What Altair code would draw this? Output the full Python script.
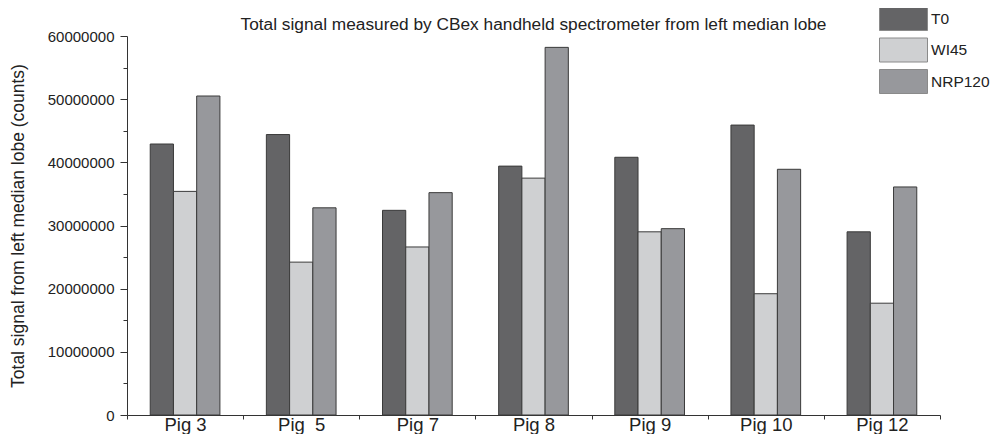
import altair as alt
import pandas as pd

pigs = ["Pig 3", "Pig \u00a05", "Pig 7", "Pig 8", "Pig 9", "Pig 10", "Pig 12"]
series = ["T0", "WI45", "NRP120"]
t0 = [42900000, 44400000, 32400000, 39400000, 40800000, 45900000, 29000000]
wi45 = [35400000, 24200000, 26600000, 37500000, 29000000, 19200000, 17700000]
nrp120 = [50500000, 32800000, 35200000, 58200000, 29500000, 38900000, 36100000]
colors = ["#646466", "#cfd0d2", "#97989c"]
y_ticks = list(range(0, 60000001, 5000000))

rows = []
for i, p in enumerate(pigs):
    for s, vals in zip(series, [t0, wi45, nrp120]):
        rows.append({"pig": p, "series": s, "value": vals[i]})
df = pd.DataFrame(rows)

FONT = "Liberation Sans"
major = "datum.value % 10000000 == 0"

chart = alt.Chart(df).mark_bar(stroke="#3a3a3a", strokeWidth=1).encode(
    x=alt.X("pig:N", sort=pigs,
            scale=alt.Scale(paddingInner=0, paddingOuter=0),
            axis=alt.Axis(title=None, labelAngle=0, tickBand="extent",
                          labelFontSize=18.5, labelFont=FONT, labelColor="#222",
                          labelBaseline="alphabetic", labelPadding=11,
                          tickSize=4, domainColor="#333",
                          tickColor="#333", grid=False)),
    xOffset=alt.XOffset("series:N", sort=series,
                        scale=alt.Scale(paddingInner=0, paddingOuter=1)),
    y=alt.Y("value:Q", scale=alt.Scale(domain=[0, 60000000], nice=False),
            axis=alt.Axis(title="Total signal from left median lobe (counts)",
                          titleFontSize=17.5, titleFont=FONT, titleFontWeight="normal",
                          titleColor="#222", titlePadding=20,
                          values=y_ticks, format="d",
                          labelExpr=major + " ? datum.label : ''",
                          labelFontSize=15, labelFont=FONT, labelColor="#222",
                          labelPadding=6,
                          tickSize=alt.condition(major, alt.value(7), alt.value(4)),
                          domainColor="#333",
                          tickColor="#333", grid=False)),
    color=alt.Color("series:N", sort=series,
                    scale=alt.Scale(domain=series, range=colors),
                    legend=alt.Legend(title=None, orient="none",
                                      legendX=764, legendY=-30,
                                      symbolType="M-2,-1H2V1H-2Z",
                                      symbolSize=576, symbolStrokeColor="#8a8a8a",
                                      symbolStrokeWidth=1, symbolOpacity=1,
                                      labelFontSize=15.5, labelFont=FONT,
                                      labelColor="#222", labelOffset=15,
                                      rowPadding=2.5, padding=0)),
).properties(
    width=813, height=379,
    title=alt.TitleParams(
        "Total signal measured by CBex handheld spectrometer from left median lobe",
        fontSize=17.3, font=FONT, fontWeight="normal", color="#222",
        anchor="middle", frame="group", offset=0, dy=27),
    autosize=alt.AutoSizeParams(type="none"),
    padding={"left": 119, "top": 28, "right": 50, "bottom": 19},
).configure_view(stroke=None)

chart.save("out.html", embed_options={"renderer": "svg", "actions": False})
